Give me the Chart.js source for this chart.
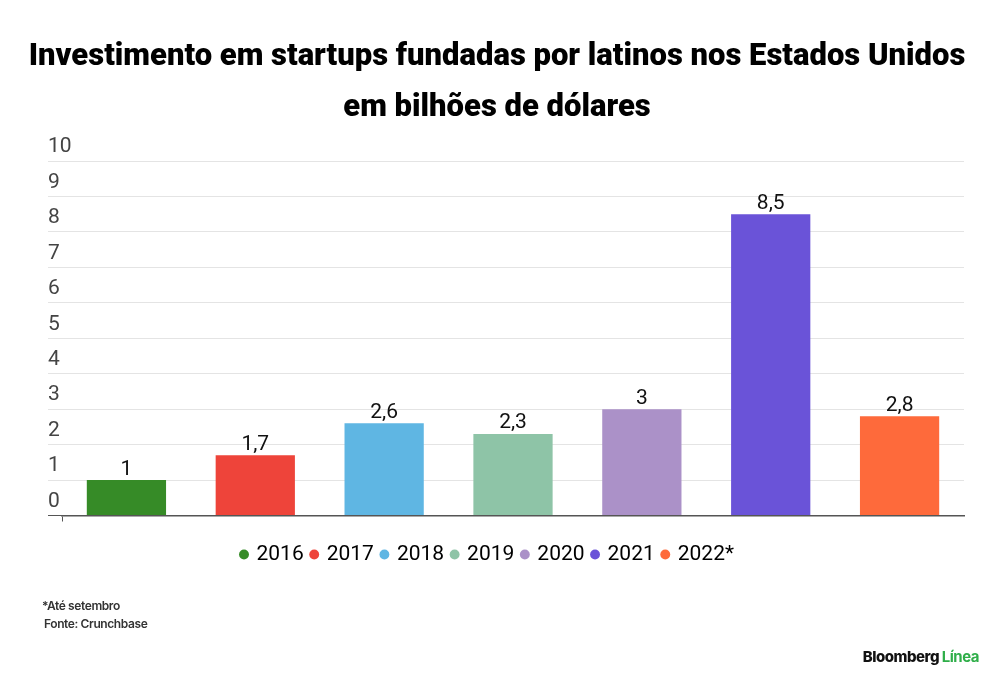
<!DOCTYPE html>
<html>
<head>
<meta charset="utf-8">
<script src="https://cdn.jsdelivr.net/npm/chart.js@4"></script>
<style>
  html, body { margin: 0; padding: 0; background: #fff; }
  #wrap { position: relative; width: 1000px; height: 677px; overflow: hidden; }
  #chartBox { position: absolute; left: 0; top: 0; width: 1000px; height: 677px; }
  .title {
    position: absolute; left: 0; width: 1000px; text-align: center;
    font-family: Roboto, "Noto Sans", sans-serif; font-weight: 900;
    font-size: 31px; color: #000; letter-spacing: 0px; white-space: nowrap;
  }
  .note {
    position: absolute; font-family: Inter, Roboto, sans-serif; font-weight: 600;
    font-size: 12px; color: #333; letter-spacing: -0.4px;
  }
  #logo {
    position: absolute; right: 21px; top: 647px;
    font-family: Inter, Roboto, sans-serif; font-weight: 800; font-size: 15px;
    letter-spacing: -0.5px; color: #111;
  }
  #logo span { color: #2fae49; font-weight: 700; }
</style>
</head>
<body>
<div id="wrap">
  <div id="chartBox"><canvas id="barChart"></canvas></div>
  <div class="title" style="left: -3px; top: 36px;">Investimento em startups fundadas por latinos nos Estados Unidos</div>
  <div class="title" style="left: -3px; top: 87px;">em bilhões de dólares</div>
  <div class="note" style="left: 42px; top: 598px;">*Até setembro</div>
  <div class="note" style="left: 44px; top: 616px;">Fonte: Crunchbase</div>
  <div id="logo">Bloomberg <span>Línea</span></div>
</div>

<script>
// ----------------------
// DATA
// ----------------------
const years = ["2016", "2017", "2018", "2019", "2020", "2021", "2022*"];
const investment = [1, 1.7, 2.6, 2.3, 3, 8.5, 2.8];
const barColors = ["#368b27", "#ee443a", "#5fb6e3", "#8ec4a7", "#ab91c8", "#6a53d8", "#fe6a3b"];
const yTicks = [0, 1, 2, 3, 4, 5, 6, 7, 8, 9, 10];

const FONT = "Roboto, 'Noto Sans', sans-serif";

// value labels above the bars, with comma decimals
const valueLabels = {
  id: "valueLabels",
  afterDatasetsDraw(chart) {
    const ctx = chart.ctx;
    const meta = chart.getDatasetMeta(0);
    ctx.save();
    ctx.font = "21px " + FONT;
    ctx.fillStyle = "#111";
    ctx.textAlign = "center";
    ctx.textBaseline = "alphabetic";
    meta.data.forEach((bar, i) => {
      const txt = String(investment[i]).replace(".", ",");
      ctx.fillText(txt, bar.x, bar.y - 5.5);
    });
    ctx.restore();
  }
};

const barChart = new Chart(document.getElementById("barChart").getContext("2d"), {
  type: "bar",
  data: {
    labels: years,
    datasets: [{
      data: investment,
      backgroundColor: barColors,
      borderWidth: 0,
      categoryPercentage: 1,
      barPercentage: 0.615
    }]
  },
  options: {
    responsive: true,
    maintainAspectRatio: false,
    animation: false,
    layout: {
      padding: { left: 12, right: 36, top: 161, bottom: 102 }
    },
    plugins: {
      legend: {
        position: "bottom",
        labels: {
          usePointStyle: true,
          boxWidth: 4,
          boxHeight: 7,
          padding: 8.5,
          color: "#333",
          font: { family: FONT, size: 21 },
          generateLabels: () => years.map((y, i) => ({
            text: y,
            fillStyle: barColors[i],
            strokeStyle: barColors[i],
            lineWidth: 0,
            pointStyle: "circle",
            hidden: false,
            index: i
          }))
        }
      },
      tooltip: { enabled: false }
    },
    scales: {
      x: {
        ticks: { display: false },
        grid: {
          offset: true,
          drawOnChartArea: false,
          tickLength: 6,
          color: (c) => (c.index === 0 || c.index === years.length) ? "#555" : "rgba(0,0,0,0)"
        },
        border: { color: "#555", width: 1.5 },
        afterFit(scale) { scale.height = 20; }
      },
      y: {
        min: 0,
        max: 10,
        afterBuildTicks(scale) { scale.ticks = yTicks.map(v => ({ value: v })); },
        afterFit(scale) { scale.width = 50; },
        ticks: {
          mirror: true,
          padding: -14,
          labelOffset: -14,
          color: "#444",
          font: { family: FONT, size: 21 }
        },
        grid: {
          tickLength: 14,
          color: (c) => (c.tick && c.tick.value === 0) ? "#555" : "#e4e4e4"
        },
        border: { display: false }
      }
    }
  },
  plugins: [valueLabels]
});
</script>
</body>
</html>
